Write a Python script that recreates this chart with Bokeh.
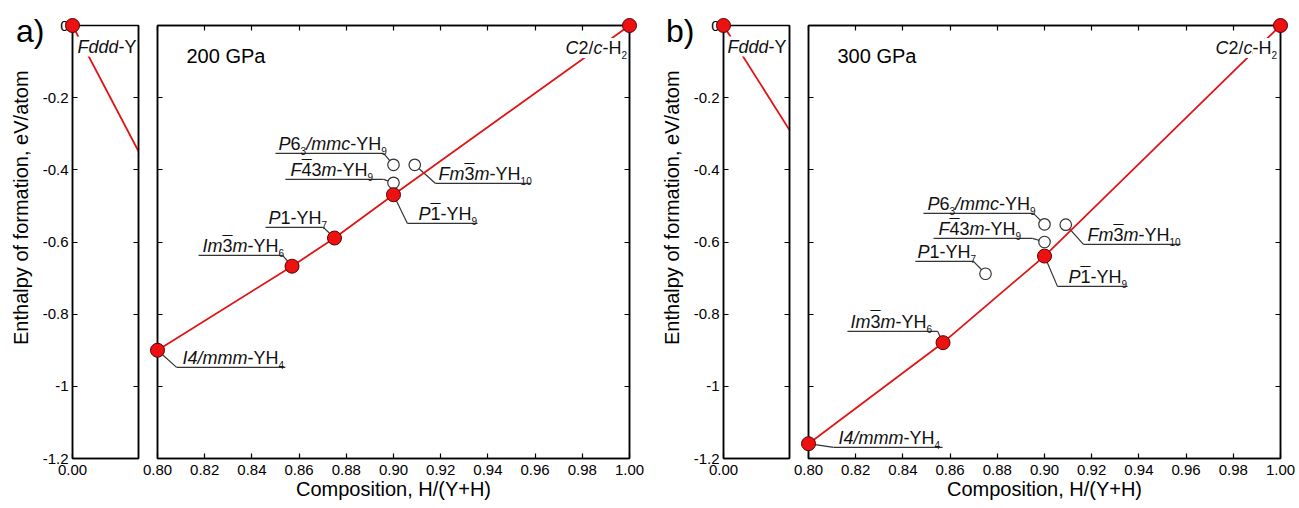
import math
from bokeh.plotting import figure
from bokeh.layouts import row
from bokeh.models import (Range1d, LinearAxis, FixedTicker, PrintfTickFormatter,
                          CustomJSTickFormatter, Label, Div)
from bokeh.embed import file_html
from bokeh.resources import INLINE

# ---------------- data ----------------
# panel a) 200 GPa
stable_a_names = ["Fddd-Y", "I4/mmm-YH4", "Im-3m-YH6", "P1-YH7", "P-1-YH9", "C2/c-H2"]
stable_a_x = [0.0, 0.800, 0.857, 0.875, 0.900, 1.000]
stable_a_y = [0.0, -0.900, -0.667, -0.589, -0.469, 0.0]
meta_a_names = ["P63/mmc-YH9", "F-43m-YH9", "Fm-3m-YH10"]
meta_a_x = [0.900, 0.900, 0.909]
meta_a_y = [-0.386, -0.436, -0.386]

# panel b) 300 GPa
stable_b_names = ["Fddd-Y", "I4/mmm-YH4", "Im-3m-YH6", "P-1-YH9", "C2/c-H2"]
stable_b_x = [0.0, 0.800, 0.857, 0.900, 1.000]
stable_b_y = [0.0, -1.159, -0.879, -0.639, 0.0]
meta_b_names = ["P1-YH7", "P63/mmc-YH9", "F-43m-YH9", "Fm-3m-YH10"]
meta_b_x = [0.875, 0.900, 0.900, 0.909]
meta_b_y = [-0.688, -0.551, -0.600, -0.552]

pressure_labels = ["200 GPa", "300 GPa"]
panel_letters = ["a)", "b)"]
y_ticks = [-1.2, -1.0, -0.8, -0.6, -0.4, -0.2, 0.0]
x_ticks_main = [0.80, 0.82, 0.84, 0.86, 0.88, 0.90, 0.92, 0.94, 0.96, 0.98, 1.00]
x_ticks_left = [0.00]
left_x_end = [0.31, 0.20]          # extent of the narrow (broken-axis) part
x_title = "Composition, H/(Y+H)"
y_title = "Enthalpy of formation, eV/atom"

# rich-text labels: (text, style)  i = italic, n = normal, s = subscript, b = barred digit
label_text = {
    "Fddd-Y": [("Fddd", "i"), ("-Y", "n")],
    "I4/mmm-YH4": [("I4/mmm", "i"), ("-YH", "n"), ("4", "s")],
    "Im-3m-YH6": [("Im", "i"), ("3", "b"), ("m", "i"), ("-YH", "n"), ("6", "s")],
    "P1-YH7": [("P", "i"), ("1-YH", "n"), ("7", "s")],
    "P-1-YH9": [("P", "i"), ("1", "b"), ("-YH", "n"), ("9", "s")],
    "C2/c-H2": [("C", "i"), ("2/", "n"), ("c", "i"), ("-H", "n"), ("2", "s")],
    "P63/mmc-YH9": [("P", "i"), ("6", "n"), ("3", "s"), ("/mmc", "i"), ("-YH", "n"), ("9", "s")],
    "F-43m-YH9": [("F", "i"), ("4", "b"), ("3", "n"), ("m", "i"), ("-YH", "n"), ("9", "s")],
    "Fm-3m-YH10": [("Fm", "i"), ("3", "b"), ("m", "i"), ("-YH", "n"), ("10", "s")],
}

# callout placement (layout, data units): name -> (text_x, underline_y, underline_x0, underline_x1)
callouts_a = {
    "P63/mmc-YH9": (0.8513, -0.3546, 0.8500, 0.8958),
    "F-43m-YH9": (0.8564, -0.4266, 0.8542, 0.8958),
    "P1-YH7": (0.8470, -0.5596, 0.8458, 0.8703),
    "Im-3m-YH6": (0.8191, -0.6371, 0.8174, 0.8530),
    "I4/mmm-YH4": (0.8106, -0.9474, 0.8081, 0.8542),
    "Fm-3m-YH10": (0.9191, -0.4377, 0.9178, 0.9581),
    "P-1-YH9": (0.9106, -0.5485, 0.9059, 0.9356),
}
callouts_b = {
    "P63/mmc-YH9": (0.8504, -0.5208, 0.8487, 0.8953),
    "F-43m-YH9": (0.8551, -0.5900, 0.8530, 0.8949),
    "P1-YH7": (0.8462, -0.6537, 0.8453, 0.8699),
    "Im-3m-YH6": (0.8178, -0.8476, 0.8165, 0.8547),
    "I4/mmm-YH4": (0.8127, -1.1690, 0.8106, 0.8568),
    "Fm-3m-YH10": (0.9182, -0.6066, 0.9165, 0.9576),
    "P-1-YH9": (0.9102, -0.7230, 0.9055, 0.9352),
}
# free labels (baseline position, data units)
free_main = [{"C2/c-H2": (0.9729, -0.080)}, {"C2/c-H2": (0.9725, -0.080)}]
free_left = [{"Fddd-Y": (0.0235, -0.076)}, {"Fddd-Y": (0.0121, -0.076)}]

# ---------------- styling ----------------
FONT = "Liberation Sans"
H = 506
TOP, BOTTOM = 25, 48
LEFT_W, LEFT_BL, LEFT_BR = 140, 72, 2
GAP = 17
MAIN_W = [511, 507]
MAIN_BR = [22, 18]
LETTER_POS = [(11, 10), (661, 10)]      # page position of the panel letters (px)
YTITLE_POS = [(6, 340), (657, 340)]     # bottom-left corner of the rotated y title (px)
RED = "#e01515"
DOT_FILL = "#ee1111"
DOT_LINE = "#5a0000"
LEAD = "#333333"
LBL = 18
SUB = 10
MID = 0.35     # distance from alphabetic baseline to the text middle, in em

CW = {' ': 278, '-': 333, '/': 278, '.': 278, ',': 278, '(': 333, ')': 333,
      'P': 667, 'Y': 667, 'H': 722, 'F': 611, 'I': 278, 'C': 722, 'G': 778,
      'm': 833, 'c': 500, 'd': 556, 'a': 556}


def text_w(s, size):
    return sum(CW.get(ch, 556) for ch in s) / 1000.0 * size


def add_rich(p, x, y, segs, base_off=0.0, size=LBL, bg=None):
    """y is the baseline (data units); base_off lifts the baseline in px."""
    off = 0.0
    for txt, st in segs:
        sub = st == "s"
        fs = SUB if sub else size
        kw = dict(background_fill_color=bg) if bg else {}
        dy = base_off + (-4.5 if sub else 0.0) + MID * fs
        p.add_layout(Label(x=x, y=y, x_offset=off, y_offset=dy,
                           text=txt, text_font=FONT, text_font_size=f"{fs}px",
                           text_font_style="italic" if st == "i" else "normal",
                           text_align="left", text_baseline="middle",
                           text_color="#111111", **kw))
        w = text_w(txt, fs)
        if st == "b":   # overbar above the digit
            p.add_layout(Label(x=x, y=y, x_offset=off + w / 2, y_offset=base_off + 0.52 * fs,
                               text="\u00af", text_font=FONT, text_font_size=f"{fs}px",
                               text_align="center", text_baseline="middle",
                               text_color="#111111"))
        off += w


def style_axis(ax, ticks, fmt, labels=True, size="15px"):
    ax.ticker = FixedTicker(ticks=ticks)
    ax.formatter = fmt if labels else CustomJSTickFormatter(code="return ''")
    ax.major_tick_in = 5
    ax.major_tick_out = 0
    ax.minor_tick_line_color = None
    ax.axis_line_width = 1.5
    ax.axis_line_color = "black"
    ax.major_tick_line_width = 1.2
    ax.major_tick_line_color = "black"
    ax.major_label_text_font = FONT
    ax.major_label_text_font_size = size if labels else "0px"
    ax.major_label_text_color = "black"
    ax.major_label_standoff = 6 if labels else 0


yfmt = CustomJSTickFormatter(code="return String(Math.round(tick*10)/10);")


def base_fig(width, xr, bl, br):
    p = figure(width=width, height=H, x_range=xr, y_range=Range1d(y_ticks[0], y_ticks[-1]),
               output_backend="svg", toolbar_location=None,
               min_border_left=bl, min_border_right=br,
               min_border_top=TOP, min_border_bottom=BOTTOM)
    p.xgrid.visible = False
    p.ygrid.visible = False
    p.outline_line_color = "black"
    p.outline_line_width = 1.5
    p.background_fill_color = "white"
    p.border_fill_color = "white"
    return p


def make_left(i, sx, sy):
    p = base_fig(LEFT_W, Range1d(0.0, left_x_end[i]), LEFT_BL, LEFT_BR)
    style_axis(p.xaxis[0], x_ticks_left, PrintfTickFormatter(format="%.2f"))
    style_axis(p.yaxis[0], y_ticks, yfmt)
    p.yaxis[0].major_label_standoff = 4
    r_ax = LinearAxis()
    style_axis(r_ax, y_ticks, None, labels=False)
    p.add_layout(r_ax, "right")
    p.line(sx, sy, line_color=RED, line_width=1.8)
    for name, (tx, ty) in free_left[i].items():
        add_rich(p, tx, ty, label_text[name], bg="white")
    dots = p.scatter(sx, sy, size=14, fill_color=DOT_FILL, line_color=DOT_LINE, line_width=1)
    dots.level = "overlay"
    return p


def make_main(i, sx, sy, snames, mx, my, mnames, callouts):
    p = base_fig(MAIN_W[i], Range1d(x_ticks_main[0], x_ticks_main[-1]), GAP, MAIN_BR[i])
    style_axis(p.xaxis[0], x_ticks_main, PrintfTickFormatter(format="%.2f"))
    p.xaxis[0].axis_label = x_title
    p.xaxis[0].axis_label_text_font = FONT
    p.xaxis[0].axis_label_text_font_size = "20px"
    p.xaxis[0].axis_label_text_font_style = "normal"
    p.xaxis[0].axis_label_text_color = "black"
    p.xaxis[0].axis_label_standoff = 0
    style_axis(p.yaxis[0], y_ticks, None, labels=False)
    t_ax = LinearAxis()
    style_axis(t_ax, x_ticks_main, None, labels=False)
    p.add_layout(t_ax, "above")
    r_ax = LinearAxis()
    style_axis(r_ax, y_ticks, None, labels=False)
    p.add_layout(r_ax, "right")

    px = dict(zip(snames + mnames, list(sx) + list(mx)))
    py = dict(zip(snames + mnames, list(sy) + list(my)))
    # callouts: underline + leader + rich text
    for name, (tx, uy, ux0, ux1) in callouts.items():
        x0, y0 = px[name], py[name]
        ex = ux1 if x0 > ux1 else ux0
        p.line([ux0, ux1], [uy, uy], line_color=LEAD, line_width=1.2)
        p.line([ex, x0], [uy, y0], line_color=LEAD, line_width=1.2)
        add_rich(p, tx, uy, label_text[name], base_off=3.5)

    p.scatter(mx, my, size=11.5, fill_color="white", line_color="#333333", line_width=1.2)
    p.line(sx, sy, line_color=RED, line_width=1.8)
    for name, (tx, ty) in free_main[i].items():
        add_rich(p, tx, ty, label_text[name], bg="white")
    dots = p.scatter(sx, sy, size=14, fill_color=DOT_FILL, line_color=DOT_LINE, line_width=1)
    dots.level = "overlay"
    p.add_layout(Label(x=x_ticks_main[0], y=y_ticks[-1], x_offset=29, y_offset=-30,
                       text=pressure_labels[i], text_font=FONT, text_font_size="20px",
                       text_baseline="middle", text_align="left", text_color="black"))
    return p


def letter_div(i):
    lx, ly = LETTER_POS[i]
    return Div(text=panel_letters[i],
               styles={"position": "absolute", "left": f"{lx}px", "top": f"{ly}px",
                       "font-family": FONT, "font-size": "32px", "line-height": "1",
                       "color": "black", "z-index": "10", "white-space": "nowrap"})


def ytitle_div(i):
    lx, ly = YTITLE_POS[i]
    return Div(text=y_title,
               styles={"position": "absolute", "left": f"{lx}px", "top": f"{ly}px",
                       "font-family": FONT, "font-size": "20px", "line-height": "1",
                       "color": "black", "z-index": "10", "white-space": "nowrap",
                       "transform": "rotate(-90deg)", "transform-origin": "left top"})


la = make_left(0, stable_a_x, stable_a_y)
ma = make_main(0, stable_a_x, stable_a_y, stable_a_names, meta_a_x, meta_a_y, meta_a_names, callouts_a)
lb = make_left(1, stable_b_x, stable_b_y)
mb = make_main(1, stable_b_x, stable_b_y, stable_b_names, meta_b_x, meta_b_y, meta_b_names, callouts_b)

layout = row(la, ma, lb, mb, letter_div(0), letter_div(1), ytitle_div(0), ytitle_div(1), spacing=0)
open("out.html", "w").write(file_html(layout, INLINE))
